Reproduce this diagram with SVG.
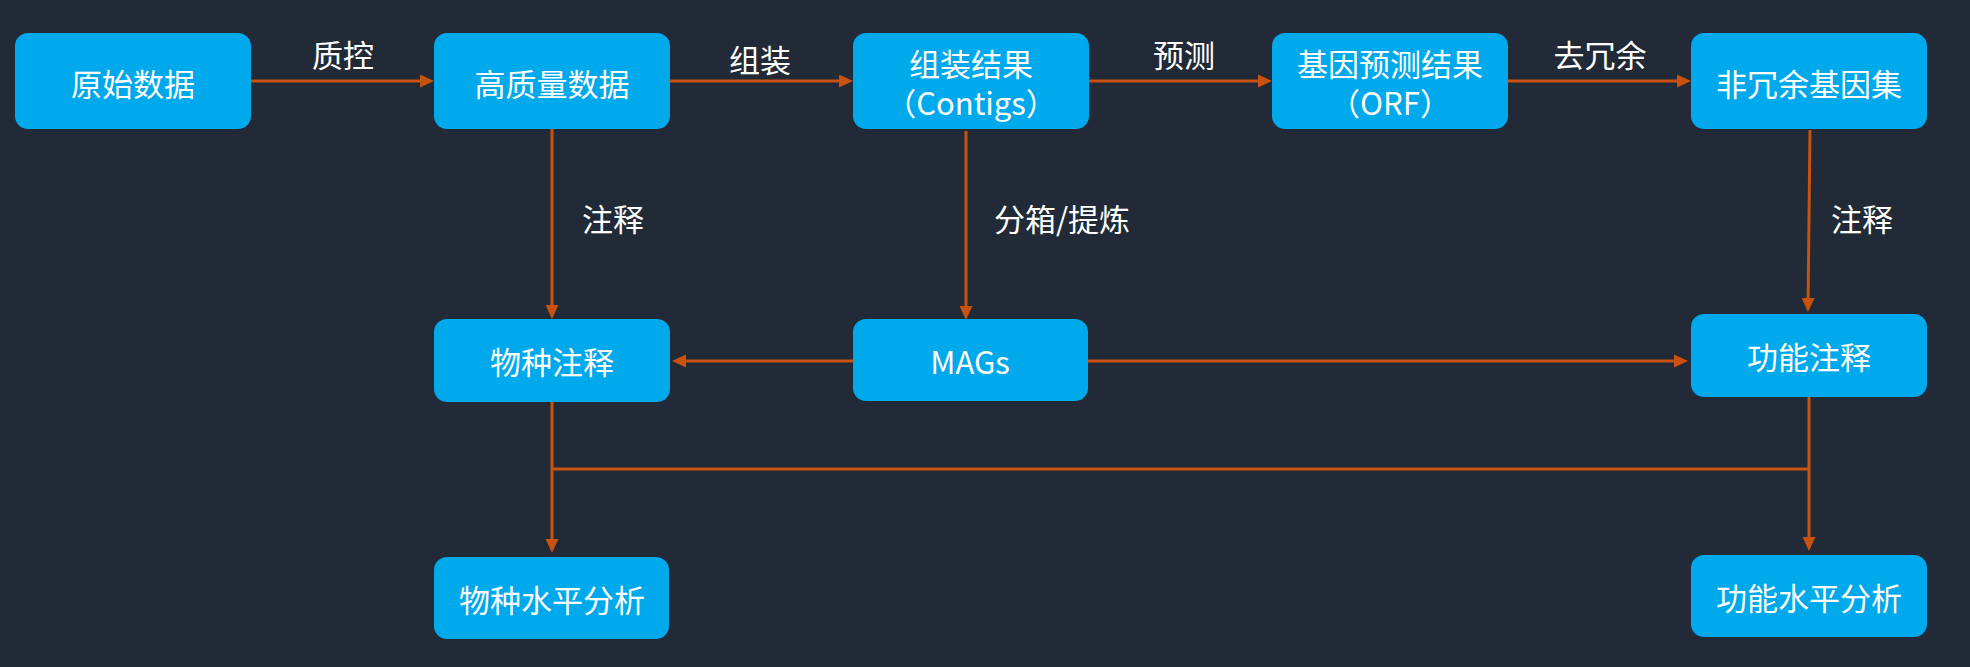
<svg xmlns="http://www.w3.org/2000/svg" width="1970" height="667" viewBox="0 0 1970 667">
  <style>
    .box { fill: #00A8EC; }
    .t { font-family: "Noto Sans CJK SC", "Noto Sans", sans-serif; font-size: 31px; fill: #FFFFFF; text-anchor: middle; dominant-baseline: central; }
    .c { stroke: #C9520E; stroke-width: 3; fill: none; }
    .a { marker-end: url(#arr); }
  </style>
  <defs>
    <marker id="arr" markerUnits="userSpaceOnUse" markerWidth="14" markerHeight="13" refX="10" refY="6.5" orient="auto">
      <path d="M0,0 L14,6.5 L0,13 Z" fill="#C9520E"/>
    </marker>
  </defs>
  <rect x="0" y="0" width="1970" height="667" fill="#212A36"/>

  <g id="connectors">
    <line class="c a" x1="251" y1="81" x2="430" y2="81"/>
    <line class="c a" x1="670" y1="81" x2="849" y2="81"/>
    <line class="c a" x1="1088" y1="81" x2="1268" y2="81"/>
    <line class="c a" x1="1507" y1="81" x2="1687" y2="81"/>
    <line class="c a" x1="552" y1="128" x2="552" y2="315"/>
    <line class="c a" x1="966" y1="131" x2="966" y2="316"/>
    <line class="c a" x1="1810" y1="130" x2="1808" y2="308"/>
    <line class="c a" x1="853" y1="361" x2="676" y2="361"/>
    <line class="c a" x1="1088" y1="361" x2="1684" y2="361"/>
    <line class="c a" x1="552" y1="402" x2="552" y2="549"/>
    <line class="c a" x1="1809" y1="397" x2="1809" y2="547"/>
    <line class="c" x1="552" y1="469" x2="1809" y2="469"/>
    <text class="t" x="343" y="53">质控</text>
    <text class="t" x="760" y="58">组装</text>
    <text class="t" x="1184" y="53">预测</text>
    <text class="t" x="1600" y="53">去冗余</text>
    <text class="t" x="613" y="217">注释</text>
    <text class="t" x="1062" y="217">分箱/提炼</text>
    <text class="t" x="1862" y="217">注释</text>
  </g>

  <g id="raw">
    <rect class="box" x="15" y="33" width="236" height="96" rx="13"/>
    <text class="t" x="133" y="82">原始数据</text>
  </g>
  <g id="hq">
    <rect class="box" x="434" y="33" width="236" height="96" rx="13"/>
    <text class="t" x="552" y="82">高质量数据</text>
  </g>
  <g id="contigs">
    <rect class="box" x="853" y="33" width="236" height="96" rx="13"/>
    <text class="t" x="971" y="62">组装结果</text>
    <text class="t" x="971" y="101">（Contigs）</text>
  </g>
  <g id="orf">
    <rect class="box" x="1272" y="33" width="236" height="96" rx="13"/>
    <text class="t" x="1390" y="62">基因预测结果</text>
    <text class="t" x="1390" y="101">（ORF）</text>
  </g>
  <g id="nr">
    <rect class="box" x="1691" y="33" width="236" height="96" rx="13"/>
    <text class="t" x="1809" y="82">非冗余基因集</text>
  </g>
  <g id="species">
    <rect class="box" x="434" y="319" width="236" height="83" rx="13"/>
    <text class="t" x="552" y="360">物种注释</text>
  </g>
  <g id="mags">
    <rect class="box" x="853" y="319" width="235" height="82" rx="13"/>
    <text class="t" x="970" y="360">MAGs</text>
  </g>
  <g id="func">
    <rect class="box" x="1691" y="314" width="236" height="83" rx="13"/>
    <text class="t" x="1809" y="355">功能注释</text>
  </g>
  <g id="species_level">
    <rect class="box" x="434" y="557" width="235" height="82" rx="13"/>
    <text class="t" x="552" y="598">物种水平分析</text>
  </g>
  <g id="func_level">
    <rect class="box" x="1691" y="555" width="236" height="82" rx="13"/>
    <text class="t" x="1809" y="596">功能水平分析</text>
  </g>
</svg>
